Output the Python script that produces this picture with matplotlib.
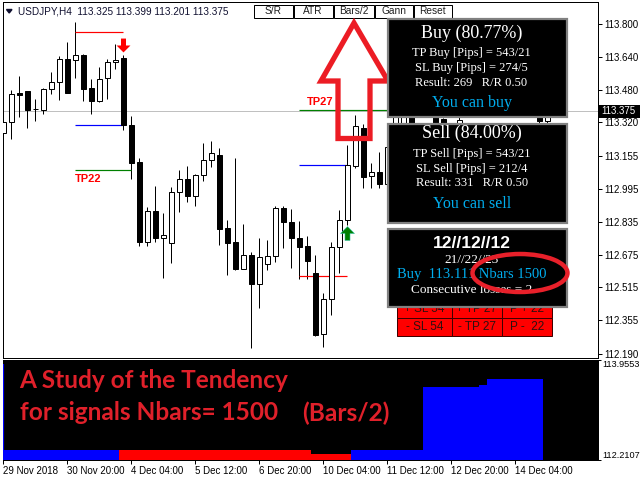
import numpy as np
import matplotlib
matplotlib.use("Agg")
import matplotlib.pyplot as plt
from matplotlib.path import Path
from matplotlib.patches import Rectangle, Ellipse, Polygon

# ---------------- data ----------------
symbol_title = "USDJPY,H4  113.325 113.399 113.201 113.375"

opens = np.array([
    113.267, 113.320, 113.462, 113.472, 113.383, 113.382, 113.481, 113.516, 113.628, 113.623,
    113.647, 113.486, 113.426, 113.535, 113.613, 113.633, 113.307, 113.127, 112.738, 112.886,
    112.758, 112.733, 112.979, 113.042, 112.963, 113.062, 113.135, 113.159, 112.803, 112.735,
    112.607, 112.672, 112.530, 112.631, 112.667, 112.904, 112.833, 112.755, 112.717, 112.584,
    112.286, 112.460, 112.711, 112.842, 113.109, 113.291, 113.057, 113.077, 113.020, 113.202,
    113.300, 113.360, 113.240, 113.170, 113.345, 113.335, 113.190, 113.120, 113.300, 113.110,
    113.200, 113.140, 113.010, 113.090, 113.210, 113.260, 113.160, 113.345, 113.325])
highs = np.array([
    113.408, 113.477, 113.546, 113.472, 113.433, 113.489, 113.566, 113.642, 113.711, 113.810,
    113.652, 113.530, 113.590, 113.628, 113.701, 113.647, 113.351, 113.145, 112.906, 113.010,
    112.878, 113.003, 113.088, 113.107, 113.068, 113.220, 113.229, 113.195, 112.842, 113.145,
    112.823, 112.690, 112.755, 112.746, 112.914, 112.911, 112.896, 112.839, 112.768, 112.673,
    112.488, 112.738, 112.891, 113.210, 113.356, 113.312, 113.120, 113.177, 113.230, 113.440,
    113.410, 113.370, 113.300, 113.310, 113.350, 113.340, 113.300, 113.360, 113.310, 113.250,
    113.290, 113.200, 113.120, 113.240, 113.300, 113.305, 113.300, 113.345, 113.399])
lows = np.array([
    113.177, 113.241, 113.348, 113.294, 113.329, 113.363, 113.460, 113.431, 113.463, 113.538,
    113.426, 113.363, 113.418, 113.436, 113.579, 113.283, 113.042, 112.719, 112.719, 112.738,
    112.563, 112.636, 112.885, 112.933, 112.914, 113.036, 113.104, 112.724, 112.574, 112.598,
    112.603, 112.218, 112.416, 112.600, 112.641, 112.709, 112.608, 112.556, 112.555, 112.278,
    112.226, 112.381, 112.586, 112.820, 113.096, 112.998, 112.998, 112.998, 112.990, 113.180,
    113.260, 113.210, 113.120, 113.100, 113.180, 113.150, 113.090, 113.100, 113.080, 113.040,
    113.100, 112.980, 112.950, 113.060, 113.150, 113.120, 113.140, 113.190, 113.201])
closes = np.array([
    113.320, 113.457, 113.455, 113.382, 113.385, 113.481, 113.516, 113.628, 113.465, 113.647,
    113.485, 113.426, 113.530, 113.613, 113.623, 113.307, 113.124, 112.738, 112.886, 112.758,
    112.769, 112.979, 113.042, 112.963, 113.062, 113.135, 113.171, 112.802, 112.733, 112.607,
    112.672, 112.530, 112.662, 112.667, 112.901, 112.833, 112.755, 112.714, 112.646, 112.283,
    112.460, 112.711, 112.842, 113.111, 113.301, 113.055, 113.077, 113.018, 113.202, 113.380,
    113.360, 113.240, 113.170, 113.290, 113.210, 113.190, 113.120, 113.330, 113.110, 113.200,
    113.140, 113.010, 113.090, 113.210, 113.260, 113.160, 113.280, 113.325, 113.375])

current_price = 113.375

price_ticks = [113.800, 113.640, 113.480, 113.320, 113.155, 112.995,
               112.835, 112.675, 112.515, 112.355, 112.190]
price_tick_labels = ["113.800", "113.640", "113.480", "113.320", "113.155", "112.995",
                     "112.835", "112.675", "112.515", "112.355", "112.190"]

date_tick_idx = [0, 8, 16, 24, 32, 40, 48, 56, 64]
date_tick_labels = ["29 Nov 2018", "30 Nov 20:00", "4 Dec 04:00", "5 Dec 12:00",
                    "6 Dec 20:00", "10 Dec 04:00", "11 Dec 12:00", "12 Dec 20:00",
                    "14 Dec 04:00"]

# trade signals: bar index, entry, stop loss, take profit, level line span, arrow level
sell_bar, sell_entry, sell_sl, sell_tp = 15, 113.307, 113.760, 113.087
sell_span, sell_tp_end, sell_arrow = (9, 15), 16, 113.698
buy_bar, buy_entry, buy_sl, buy_tp = 43, 113.111, 112.571, 113.381
buy_span, buy_tp_end, buy_arrow = (37, 43), 49, 112.778
sell_tp_text, buy_tp_text = "TP22", "TP27"

# tendency study (lower window)
tend_min, tend_max = 112.2107, 113.9553
tend_blue = np.array([112.376] * 15 + [np.nan] * 29 + [112.376] * 9 + [113.474] * 7
                     + [113.509] + [113.608] * 7 + [np.nan])
tend_red = np.array([np.nan] * 15 + [112.376] * 24 + [112.311] * 5 + [np.nan] * 25)

buttons = ["S/R", "ATR", "Bars/2", "Gann", "Reset"]
buy_lines = ["Buy (80.77%)", "TP Buy [Pips] = 543/21", "SL Buy [Pips] = 274/5",
             "Result: 269   R/R 0.50", "You can buy"]
sell_lines = ["Sell (84.00%)", "TP Sell [Pips] = 543/21", "SL Sell [Pips] = 212/4",
              "Result: 331   R/R 0.50", "You can sell"]
info_lines = ["12//12//12", "21//22//23", "Buy  113.111 Nbars 1500", "Consecutive losses = 2"]
table_rows = [["+ SL 54", "+ TP 27", "P + 22"], ["- SL 54", "- TP 27", "P -  22"]]
study_title = ["A Study of the Tendency", "for signals Nbars= 1500", "(Bars/2)"]

# ---------------- layout helpers ----------------
W, H = 640, 480
fig = plt.figure(figsize=(6.4, 4.8), dpi=100)
fig.patch.set_facecolor("white")


def px_axes(x0, y0, x1, y1, **kw):
    return fig.add_axes([x0 / W, 1 - y1 / H, (x1 - x0) / W, (y1 - y0) / H], **kw)


SANS = "Liberation Sans"
SERIF = "Liberation Serif"
px = 0.72  # one pixel in points

# ---------------- main price window ----------------
ax = px_axes(2.5, 2.5, 597.5, 357.5)
ax.set_xlim(-0.1, 74.275)
ax.set_ylim(112.173, 113.905)
ax.axhline(current_price, color="#c0c0c0", lw=px, zorder=1)

idx = np.arange(len(opens))
rising = closes >= opens
ax.vlines(idx, lows, highs, color="black", lw=px, zorder=2)
body_lo = np.minimum(opens, closes)
body_h = np.maximum(np.abs(closes - opens), 0.002)
ax.bar(idx, body_h, bottom=body_lo, width=0.6,
       color=np.where(rising, "white", "black"), edgecolor="black", lw=px, zorder=3)

# signal levels
ax.hlines(sell_sl, *sell_span, color="#ff0000", lw=px * 1.2, zorder=2.5)
ax.hlines(sell_entry, *sell_span, color="#0000ff", lw=px * 1.2, zorder=2.5)
ax.hlines(sell_tp, sell_span[0], sell_tp_end, color="#008000", lw=px * 1.2, zorder=2.5)
ax.hlines(buy_sl, *buy_span, color="#ff0000", lw=px * 1.2, zorder=2.5)
ax.hlines(buy_entry, *buy_span, color="#0000ff", lw=px * 1.2, zorder=2.5)
ax.hlines(buy_tp, buy_span[0], buy_tp_end, color="#008000", lw=px * 1.2, zorder=2.5)

ax.annotate(sell_tp_text, (sell_span[0], sell_tp), xytext=(0, -3), textcoords="offset points",
            ha="left", va="top", color="#ff0000", fontsize=8, fontweight="bold",
            family=SANS, zorder=4)
ax.annotate(buy_tp_text, (buy_span[0] + 1, buy_tp), xytext=(0, 2), textcoords="offset points",
            ha="left", va="bottom", color="#ff0000", fontsize=8, fontweight="bold",
            family=SANS, zorder=4)

down_arrow = Path([(-0.18, 0.5), (0.18, 0.5), (0.18, 0.0), (0.5, 0.0), (0.0, -0.5),
                   (-0.5, 0.0), (-0.18, 0.0), (-0.18, 0.5)],
                  [Path.MOVETO] + [Path.LINETO] * 6 + [Path.CLOSEPOLY])
up_arrow = Path([(x, -y) for x, y in down_arrow.vertices], down_arrow.codes)
ax.plot(sell_bar, sell_arrow, marker=down_arrow, markersize=10, color="#ff0000",
        markeredgewidth=0, zorder=4)
ax.plot(buy_bar, buy_arrow, marker=up_arrow, markersize=10, color="#008000",
        markeredgecolor="#30c0a0", markeredgewidth=0.4, zorder=4)

ax.yaxis.tick_right()
ax.set_yticks(price_ticks)
ax.set_yticklabels(price_tick_labels, fontsize=7, family=SANS)
ax.tick_params(axis="y", direction="out", length=3, width=px, pad=2)
ax.set_xticks([])
for s in ax.spines.values():
    s.set_linewidth(px)
    s.set_color("black")

# ---------------- tendency window ----------------
ax2 = px_axes(2.5, 359.5, 597.5, 459.5)
ax2.set_facecolor("black")
ax2.set_xlim(-0.1, 74.275)
ax2.set_ylim(tend_min, tend_max)
ax2.bar(idx, tend_blue - tend_min, bottom=tend_min, width=1.0, color="#0000ff", lw=0)
ax2.bar(idx, tend_red - tend_min, bottom=tend_min, width=1.0, color="#ff0000", lw=0)
ax2.vlines(0.0, tend_min, tend_max - 0.08, color="#0000ff", lw=1.6, zorder=3)
ax2.yaxis.tick_right()
ax2.set_yticks([tend_max, tend_min])
ax2.set_yticklabels(["113.9553", "112.2107"], fontsize=6.6, family=SANS)
lbls = ax2.get_yticklabels()
lbls[0].set_va("top")
lbls[1].set_va("bottom")
ax2.tick_params(axis="y", direction="out", length=2.5, width=px, pad=1.2)
ax2.set_xticks(date_tick_idx)
ax2.set_xticklabels(date_tick_labels, fontsize=7, family=SANS, ha="left")
ax2.tick_params(axis="x", direction="out", length=3, width=px, pad=1.5)
for s in ax2.spines.values():
    s.set_linewidth(px)
    s.set_color("black")

# ---------------- on-chart panels and controls ----------------
ov = px_axes(0, 0, W, H, zorder=10)
ov.set_xlim(0, W)
ov.set_ylim(H, 0)
ov.axis("off")
ov.patch.set_alpha(0)

# symbol line
ov.add_patch(Polygon([(6.5, 9.5), (12, 9.5), (9.25, 13)], closed=True, color="#101030"))
ov.text(18, 11, symbol_title, fontsize=7.2, family=SANS, color="#101030", va="center", ha="left")

# buttons
bx = [253, 293, 333, 374, 413, 452]
for i, name in enumerate(buttons):
    ov.add_patch(Rectangle((bx[i] + 0.5, 4.5), bx[i + 1] - bx[i] - 1, 13.5,
                           facecolor="white", edgecolor="black", lw=px))
    ov.text((bx[i] + bx[i + 1]) / 2, 11.5, name, fontsize=7.3, family=SANS,
            ha="center", va="center", color="#202020")

# big outlined arrow
ov.add_patch(Polygon([(354, 23), (321, 81), (338, 81), (338, 138.5), (370, 138.5),
                      (370, 81), (388, 81)], closed=True, fill=False,
                     edgecolor="#ec1c24", lw=3.8, joinstyle="miter", zorder=1))

# red summary table
tx = [397, 451.7, 501.7, 551.7]
ty = [299, 317.5, 336]
for r, row in enumerate(table_rows):
    for c, cell in enumerate(row):
        ov.add_patch(Rectangle((tx[c], ty[r]), tx[c + 1] - tx[c], ty[r + 1] - ty[r],
                               facecolor="#ff0000", edgecolor="#400000", lw=px, zorder=2))
        ov.text((tx[c] + tx[c + 1]) / 2, (ty[r] + ty[r + 1]) / 2 + 0.5, cell, fontsize=8.5,
                family=SANS, ha="center", va="center", color="#301010", zorder=2.1)

# black info panels
for (y0, y1) in [(18.5, 117), (123.5, 222.5), (228.5, 307)]:
    ov.add_patch(Rectangle((387.5, y0), 179, y1 - y0, facecolor="black",
                           edgecolor="#808080", lw=1.6, zorder=3))

CYAN = "#00aeef"
styles = [(13, "white"), (9, "white"), (9, "white"), (9, "white"), (11.5, CYAN)]
for lines, ys, cx in [(buy_lines, [33, 53.3, 68.3, 82.7, 103.3], 471.5),
                      (sell_lines, [133.3, 154, 169, 183.3, 204], 472)]:
    for t, y, (fs, col) in zip(lines, ys, styles):
        ov.text(cx, y, t, fontsize=fs, family=SERIF, color=col, ha="center",
                va="center", zorder=4)

ov.text(472, 244, info_lines[0], fontsize=12.5, family=SANS, fontweight="bold",
        color="white", ha="center", va="center", zorder=4)
ov.text(472, 260, info_lines[1], fontsize=9.5, family=SERIF, color="white",
        ha="center", va="center", zorder=4)
ov.text(471.7, 274.3, info_lines[2], fontsize=10.5, family=SERIF, color=CYAN,
        ha="center", va="center", zorder=4)
ov.text(472, 290, info_lines[3], fontsize=9.5, family=SERIF, color="white",
        ha="center", va="center", zorder=4)

ov.add_patch(Ellipse((520, 273), 95, 38, fill=False, edgecolor="#e8202a", lw=3.2, zorder=5))

# current price marker on the scale
ov.add_patch(Rectangle((598, 104.5), 42, 13, facecolor="black", edgecolor="none", zorder=4))
ov.text(601, 111, f"{current_price:.3f}", fontsize=7, family=SANS, color="white",
        ha="left", va="center", zorder=5)

# tendency study caption
RED_TXT = "#e0202a"
ov.text(19.5, 380, study_title[0], fontsize=17.6, family="Lato", fontweight="bold",
        color=RED_TXT, ha="left", va="center")
ov.text(19.5, 413, study_title[1], fontsize=17.6, family="Lato", fontweight="bold",
        color=RED_TXT, ha="left", va="center")
ov.text(302, 413, study_title[2], fontsize=17.6, family="Lato", fontweight="bold",
        color=RED_TXT, ha="left", va="center")

fig.savefig("out.png", dpi=100)
